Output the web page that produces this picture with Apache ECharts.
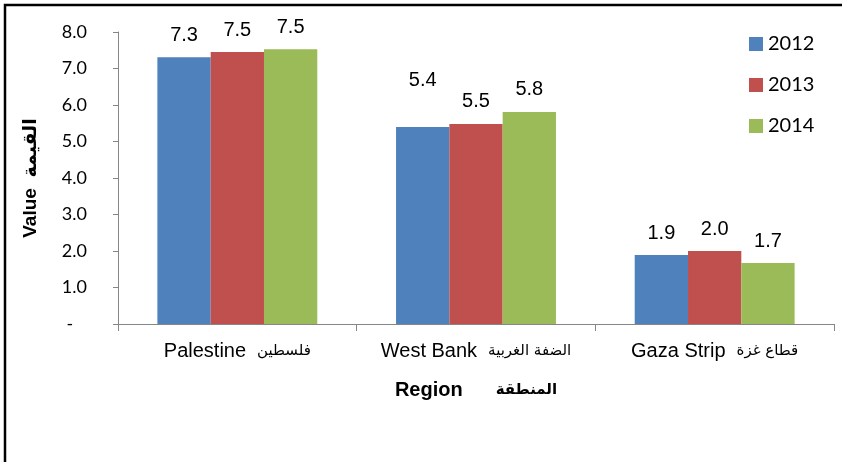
<!DOCTYPE html>
<html>
<head>
<meta charset="utf-8">
<script src="https://cdn.jsdelivr.net/npm/echarts@6/dist/echarts.min.js"></script>
<style>
  html, body { margin: 0; padding: 0; background: #fff; }
  #chart { width: 842px; height: 462px; }
</style>
</head>
<body>
<div id="chart"></div>
<script>
// regions (x axis) and years (legend)
var regions = ['Palestine  فلسطين', 'West Bank  الضفة الغربية', 'Gaza Strip  قطاع غزة'];
var years = ['2012', '2013', '2014'];
// values per year, one per region
var v2012 = [7.31, 5.40, 1.89];
var v2013 = [7.45, 5.48, 2.00];
var v2014 = [7.53, 5.81, 1.67];
var colors = ['#4F81BD', '#C0504D', '#9BBB59'];

var chart = echarts.init(document.getElementById('chart'));

var arial = '"Liberation Sans", Arial, "DejaVu Sans", sans-serif';
var calibri = 'Lato, "Liberation Sans", sans-serif';
var arabic = '"DejaVu Sans", sans-serif';

function makeSeries(name, values, color, idx) {
  return {
    name: name,
    type: 'bar',
    barGap: '0%',
    barCategoryGap: '33%',
    itemStyle: { color: color },
    label: {
      show: true,
      position: 'top',
      distance: 12,
      color: '#000',
      fontSize: 20,
      fontFamily: arial,
      formatter: function (p) { return p.value.toFixed(1); }
    },
    // the 2012 West Bank label sits higher in the original
    data: values.map(function (v, i) {
      if (idx === 0 && i === 1) return { value: v, label: { distance: 36 } };
      return v;
    })
  };
}

chart.setOption({
  animation: false,
  color: colors,
  graphic: [{
    type: 'rect',
    shape: { x: 5, y: 5, width: 900, height: 600 },
    style: { fill: 'none', stroke: '#000', lineWidth: 2.5 },
    silent: true
  }],
  legend: {
    orient: 'vertical',
    left: 744,
    top: 29,
    itemWidth: 14,
    itemHeight: 14,
    itemGap: 21,
    icon: 'rect',
    textStyle: { fontSize: 20, fontFamily: calibri, color: '#000' },
    data: years
  },
  grid: { left: 118, right: 8, top: 32, bottom: 138 },
  xAxis: {
    type: 'category',
    data: regions,
    name: '{en|Region}{sp|}{ar|المنطقة}',
    nameLocation: 'middle',
    nameGap: 56,
    nameTextStyle: {
      rich: {
        en: { fontSize: 20, fontWeight: 'bold', fontFamily: arial, color: '#000' },
        sp: { width: 33 },
        ar: { fontSize: 15, fontWeight: 'bold', fontFamily: arabic, color: '#000' }
      }
    },
    axisLine: { lineStyle: { color: '#868686', width: 1 } },
    axisTick: { show: true, alignWithLabel: false, length: 7, lineStyle: { color: '#868686' } },
    axisLabel: {
      interval: 0,
      margin: 17,
      formatter: function (v) {
        var parts = v.split('  ');
        return '{en|' + parts[0] + '}{sp|}{ar|' + parts[1] + '}';
      },
      rich: {
        en: { fontSize: 20, fontFamily: arial, color: '#000' },
        sp: { width: 11 },
        ar: { fontSize: 15, fontFamily: arabic, color: '#000' }
      }
    }
  },
  yAxis: {
    type: 'value',
    min: 0,
    max: 8,
    interval: 1,
    name: 'Value  القيمة',
    nameLocation: 'middle',
    nameGap: 78,
    nameTextStyle: { fontSize: 19, fontWeight: 'bold', fontFamily: arial, color: '#000' },
    splitLine: { show: false },
    axisLine: { show: true, lineStyle: { color: '#868686', width: 1 } },
    axisTick: { show: true, length: 5, lineStyle: { color: '#868686' } },
    axisLabel: {
      margin: 31,
      fontSize: 18,
      fontFamily: calibri,
      color: '#000',
      formatter: function (v) { return v === 0 ? '-   ' : v.toFixed(1); }
    }
  },
  series: [
    makeSeries(years[0], v2012, colors[0], 0),
    makeSeries(years[1], v2013, colors[1], 1),
    makeSeries(years[2], v2014, colors[2], 2)
  ]
});
</script>
</body>
</html>
